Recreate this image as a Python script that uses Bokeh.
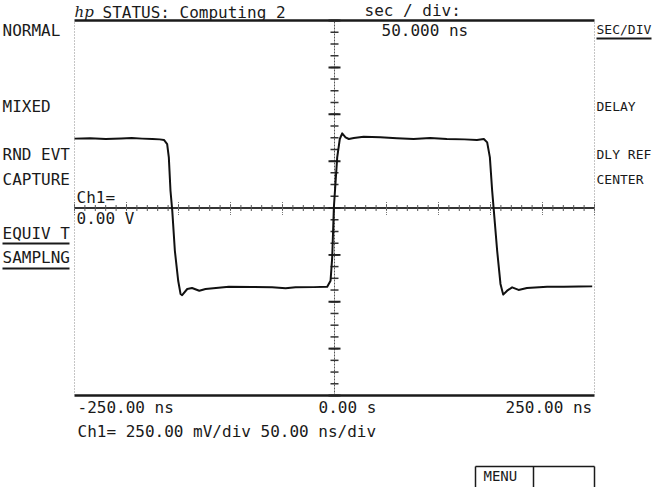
import numpy as np
from bokeh.plotting import figure
from bokeh.models import Range1d
from bokeh.core.properties import value
from bokeh.embed import file_html
from bokeh.resources import INLINE

# ---------------- data (read from the screen capture) ----------------
# time in ns, voltage in V
trace_t = [-250, -235, -220, -205, -195, -185, -175, -168,
           -164, -160.9, -159.3, -157.7, -156.0, -153.5, -150.3, -148.0,
           -146.5, -141.6, -137, -130, -124, -114, -101.6, -80,
           -60, -47, -37.5, -20, -7, -3.8, -2.2, -0.6,
           2.6, 5.1, 7.4, 10.6, 13.8, 18.6, 28, 44,
           60, 76, 92, 108, 125, 137, 143.6, 146.8,
           149.4, 151.6, 153.2, 156.4, 159.6, 162.2, 166, 170.8,
           177, 185, 204.5, 220.5, 235, 247.8]
trace_v = [0.370, 0.372, 0.368, 0.371, 0.373, 0.370, 0.368, 0.366,
           0.363, 0.341, 0.270, 0.092, -0.014, -0.228, -0.388, -0.459,
           -0.465, -0.432, -0.427, -0.441, -0.432, -0.427, -0.420, -0.421,
           -0.423, -0.428, -0.423, -0.422, -0.420, -0.388, -0.263, 0.004,
           0.270, 0.368, 0.398, 0.377, 0.368, 0.373, 0.380, 0.377,
           0.372, 0.368, 0.373, 0.368, 0.366, 0.363, 0.368, 0.350,
           0.270, 0.092, -0.014, -0.228, -0.405, -0.462, -0.441, -0.423,
           -0.437, -0.427, -0.420, -0.420, -0.419, -0.418]

T_MIN, T_MAX = -250.0, 250.0      # 10 div x 50 ns
V_MIN, V_MAX = -1.0, 1.0          # 8 div x 250 mV
X_MINOR_STEP, X_MAJOR_STEP = 10.0, 50.0
Y_MINOR_STEP, Y_MAJOR_STEP = 0.0625, 0.25

x_minor = np.arange(T_MIN, T_MAX + 0.01, X_MINOR_STEP)
x_major = np.arange(T_MIN, T_MAX + 0.01, X_MAJOR_STEP)
y_minor = np.arange(V_MIN, V_MAX + 0.001, Y_MINOR_STEP)
y_major = np.arange(V_MIN, V_MAX + 0.001, Y_MAJOR_STEP)

status_text = "STATUS: Computing 2"
bottom_left, bottom_mid, bottom_right = "-250.00 ns", "0.00 s", "250.00 ns"
scale_text = "Ch1= 250.00 mV/div 50.00 ns/div"

# ---------------- layout ----------------
W, H = 654, 487
BOX_L, BOX_R, BOX_T, BOX_B = 74, 594, 20, 395       # canvas pixels
PX_NS = (BOX_R - BOX_L) / (T_MAX - T_MIN)
PX_V = (BOX_B - BOX_T) / (V_MAX - V_MIN)
X0 = T_MIN - BOX_L / PX_NS
X1 = T_MAX + (W - BOX_R) / PX_NS
Y1 = V_MAX + BOX_T / PX_V
Y0 = V_MIN - (H - BOX_B) / PX_V


def sx(px):
    return X0 + (px - 8) / PX_NS


def sy(py):
    return Y1 - (py - 8) / PX_V


def dx(n):
    return n / PX_NS


def dy(n):
    return n / PX_V


p = figure(width=W, height=H, x_range=Range1d(X0, X1), y_range=Range1d(Y0, Y1),
           output_backend="svg", toolbar_location=None, min_border=0,
           x_axis_location=None, y_axis_location=None)
p.grid.visible = False
p.outline_line_color = None
p.background_fill_color = "white"
p.border_fill_color = "white"

INK = "#1a1a1a"
MONO = value("DejaVu Sans Mono")

# frame: thick top/bottom, dotted sides
p.segment(x0=[T_MIN, T_MIN], y0=[V_MAX, V_MIN], x1=[T_MAX, T_MAX], y1=[V_MAX, V_MIN],
          line_color=INK, line_width=2.5)
p.segment(x0=[T_MIN, T_MAX], y0=[V_MIN, V_MIN], x1=[T_MIN, T_MAX], y1=[V_MAX, V_MAX],
          line_color="#8a8a8a", line_width=1, line_dash="1 2")

# centre axes
p.segment(x0=[T_MIN], y0=[0], x1=[T_MAX], y1=[0], line_color="#333", line_width=2)
p.segment(x0=[0], y0=[V_MIN], x1=[0], y1=[V_MAX], line_color="#555", line_width=1,
          line_dash="2 1")
# horizontal axis ticks
p.segment(x0=x_minor, y0=[-dy(3)] * len(x_minor), x1=x_minor, y1=[dy(3)] * len(x_minor),
          line_color="#555", line_width=1)
p.segment(x0=x_major, y0=[-dy(7)] * len(x_major), x1=x_major, y1=[dy(7)] * len(x_major),
          line_color="#777", line_width=1, line_dash="1 1")
# vertical axis ticks
p.segment(x0=[-dx(4)] * len(y_minor), y0=y_minor, x1=[dx(4)] * len(y_minor), y1=y_minor,
          line_color="#333", line_width=1.5)
p.segment(x0=[-dx(6)] * len(y_major), y0=y_major, x1=[dx(6)] * len(y_major), y1=y_major,
          line_color="#222", line_width=2)

# trace
p.line(trace_t, trace_v, line_color="#111", line_width=2, line_join="round")


def label(txt, px, py, size="16px", style="normal", color=INK):
    p.text(x=[sx(px)], y=[sy(py)], text=[txt], text_font=MONO, text_font_size=size,
           text_font_style=style, text_color=color, text_align="left",
           text_baseline="middle")


def uline(px0, px1, py):
    p.segment(x0=[sx(px0)], y0=[sy(py)], x1=[sx(px1)], y1=[sy(py)],
              line_color=INK, line_width=2)


# header
p.text(x=[sx(82)], y=[sy(19)], text=["hp"], text_font=value("DejaVu Serif"),
       text_font_size="15px", text_font_style="italic", text_color=INK,
       text_align="left", text_baseline="middle")
label(status_text, 110, 20)
label("sec / div:", 372, 18)
label("50.000 ns", 389, 38)

# left soft keys
label("NORMAL", 10, 38)
label("MIXED", 10, 114)
label("RND EVT", 10, 162)
label("CAPTURE", 10, 187)
label("EQUIV T", 10, 241)
uline(10, 77, 251)
label("SAMPLNG", 10, 265)
uline(10, 77, 276)

# right soft keys
RS = "13px"
label("SEC/DIV", 604, 37, size=RS)
uline(604, 659, 46)
label("DELAY", 604, 114, size=RS)
label("DLY REF", 604, 162, size=RS)
label("CENTER", 604, 187, size=RS)

# channel marker
label("Ch1=", 84, 205)
label("0.00 V", 84, 226)

# bottom readouts
label(bottom_left, 85, 415)
label(bottom_mid, 326, 415)
label(bottom_right, 513, 415)
label(scale_text, 85, 439)

# menu box
p.segment(x0=[sx(483), sx(483), sx(541), sx(602)],
          y0=[sy(474), sy(474), sy(474), sy(474)],
          x1=[sx(602), sx(483), sx(541), sx(602)],
          y1=[sy(474), sy(495), sy(495), sy(495)],
          line_color=INK, line_width=1.5)
label("MENU", 491, 483, size="14px")

open("out.html", "w").write(file_html(p, INLINE))
